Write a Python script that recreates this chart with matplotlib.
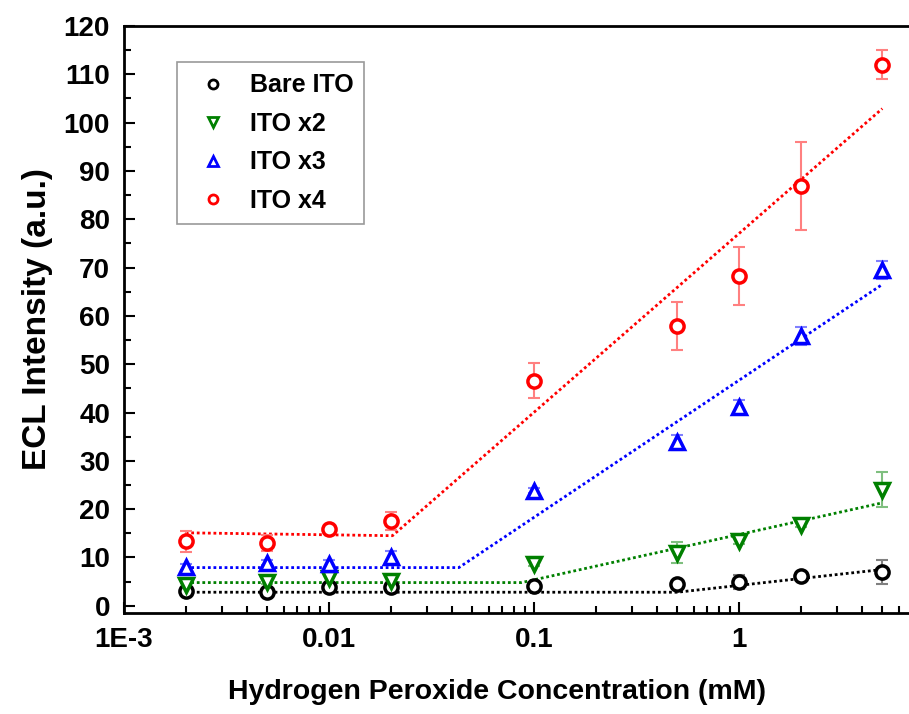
import numpy as np
import matplotlib
matplotlib.use("Agg")
from matplotlib import pyplot as plt
from matplotlib import ticker, font_manager

# data
conc = [0.002, 0.005, 0.01, 0.02, 0.1, 0.5, 1, 2, 5]

bare = [3.0, 2.9, 3.8, 3.9, 4.0, 4.4, 4.9, 6.2, 7.0]
bare_err = [0.5, 0.5, 0.5, 0.5, 0.5, 0.6, 1.5, 0.8, 2.4]
ito2 = [4.2, 5.0, 5.7, 5.2, 8.7, 11.0, 13.5, 16.8, 24.0]
ito2_err = [0.5, 0.6, 1.2, 0.6, 0.5, 2.2, 0.8, 0.6, 3.6]
ito3 = [8.0, 8.9, 8.6, 10.1, 23.8, 33.8, 41.2, 55.8, 69.5]
ito3_err = [0.6, 0.5, 0.8, 1.2, 0.5, 1.6, 1.3, 1.8, 1.8]
ito4 = [13.3, 13.0, 15.8, 17.6, 46.6, 57.9, 68.3, 86.8, 112.0]
ito4_err = [2.1, 1.6, 1.0, 1.9, 3.7, 5.0, 6.0, 9.1, 3.0]

# piecewise fit lines (breakpoints)
bare_fit_x = [0.002, 0.5, 5]
bare_fit_y = [2.8, 2.8, 7.5]
ito2_fit_x = [0.002, 0.087, 5]
ito2_fit_y = [4.8, 4.8, 21.3]
ito3_fit_x = [0.002, 0.043, 5]
ito3_fit_y = [7.9, 7.9, 66.5]
ito4_fit_x = [0.002, 0.0204, 5]
ito4_fit_y = [15.1, 14.5, 102.9]

labels = ["Bare ITO", "ITO x2", "ITO x3", "ITO x4"]
xticks = [1e-3, 1e-2, 1e-1, 1]
xtick_labels = ["1E-3", "0.01", "0.1", "1"]

names = [f.name for f in font_manager.fontManager.ttflist]
narrow = "Liberation Sans Narrow" if "Liberation Sans Narrow" in names else "Liberation Sans"
plt.rcParams['font.family'] = ['Liberation Sans', 'DejaVu Sans']

fig = plt.figure(figsize=(9.09, 7.14), dpi=100)
ax = fig.add_axes([124/909, 1-613/714, 820/909, 587/714])

series = [
    (bare, bare_err, bare_fit_x, bare_fit_y, 'o', 'black', '#808080'),
    (ito2, ito2_err, ito2_fit_x, ito2_fit_y, 'v', '#008000', '#7fbf7f'),
    (ito3, ito3_err, ito3_fit_x, ito3_fit_y, '^', '#0000ff', '#8080ff'),
    (ito4, ito4_err, ito4_fit_x, ito4_fit_y, 'o', '#ff0000', '#ff8080'),
]

handles = []
for (y, e, fx, fy, m, c, ec), lab in zip(series, labels):
    ax.plot(fx, fy, linestyle=(0, (1, 1)), color=c, lw=2, zorder=2)
    ax.errorbar(conc, y, yerr=e, fmt='none', ecolor=ec, elinewidth=1.5,
                capsize=4, capthick=1.5, zorder=3)
    ax.plot(conc, y, linestyle='none', marker=m, markersize=9.5,
            markerfacecolor='white', markeredgecolor=c, markeredgewidth=2.5,
            zorder=4)
    h, = ax.plot([], [], linestyle='none', marker=m, markersize=6.5,
                 markerfacecolor='none', markeredgecolor=c, markeredgewidth=2,
                 label=lab)
    handles.append(h)

ax.set_xscale('log')
ax.set_xlim(1e-3, 10)
ax.set_ylim(-1.5, 120)
ax.set_xticks(xticks)
ax.set_xticklabels(xtick_labels)
ax.xaxis.set_minor_locator(ticker.LogLocator(base=10, subs=np.arange(2, 10)))
ax.xaxis.set_minor_formatter(ticker.NullFormatter())
ax.yaxis.set_major_locator(ticker.MultipleLocator(10))
ax.yaxis.set_minor_locator(ticker.MultipleLocator(5))

ax.tick_params(which='both', direction='in', top=False, right=False)
ax.tick_params(which='major', length=8, width=1.5, labelsize=20, pad=10)
ax.tick_params(which='minor', length=5, width=1.5)
for lab in ax.get_xticklabels() + ax.get_yticklabels():
    lab.set_fontweight('bold')
for s in ax.spines.values():
    s.set_linewidth(2)

ax.set_xlabel("Hydrogen Peroxide Concentration (mM)", family=narrow,
              fontsize=20.5, fontweight='bold')
ax.xaxis.set_label_coords(0.455, -0.112)
ax.set_ylabel("ECL Intensity (a.u.)", family=narrow,
              fontsize=24, fontweight='bold', labelpad=8)

leg = fig.legend(handles=handles, loc='upper left',
                 bbox_to_anchor=(177/909, 1-62/714),
                 prop={'weight': 'bold', 'size': 18}, frameon=True,
                 fancybox=False, edgecolor='#808080', handlelength=2.0,
                 handletextpad=0.45, labelspacing=0.58, borderpad=0.45,
                 borderaxespad=0)
leg.get_frame().set_linewidth(1.2)

fig.savefig("out.png", dpi=100)
